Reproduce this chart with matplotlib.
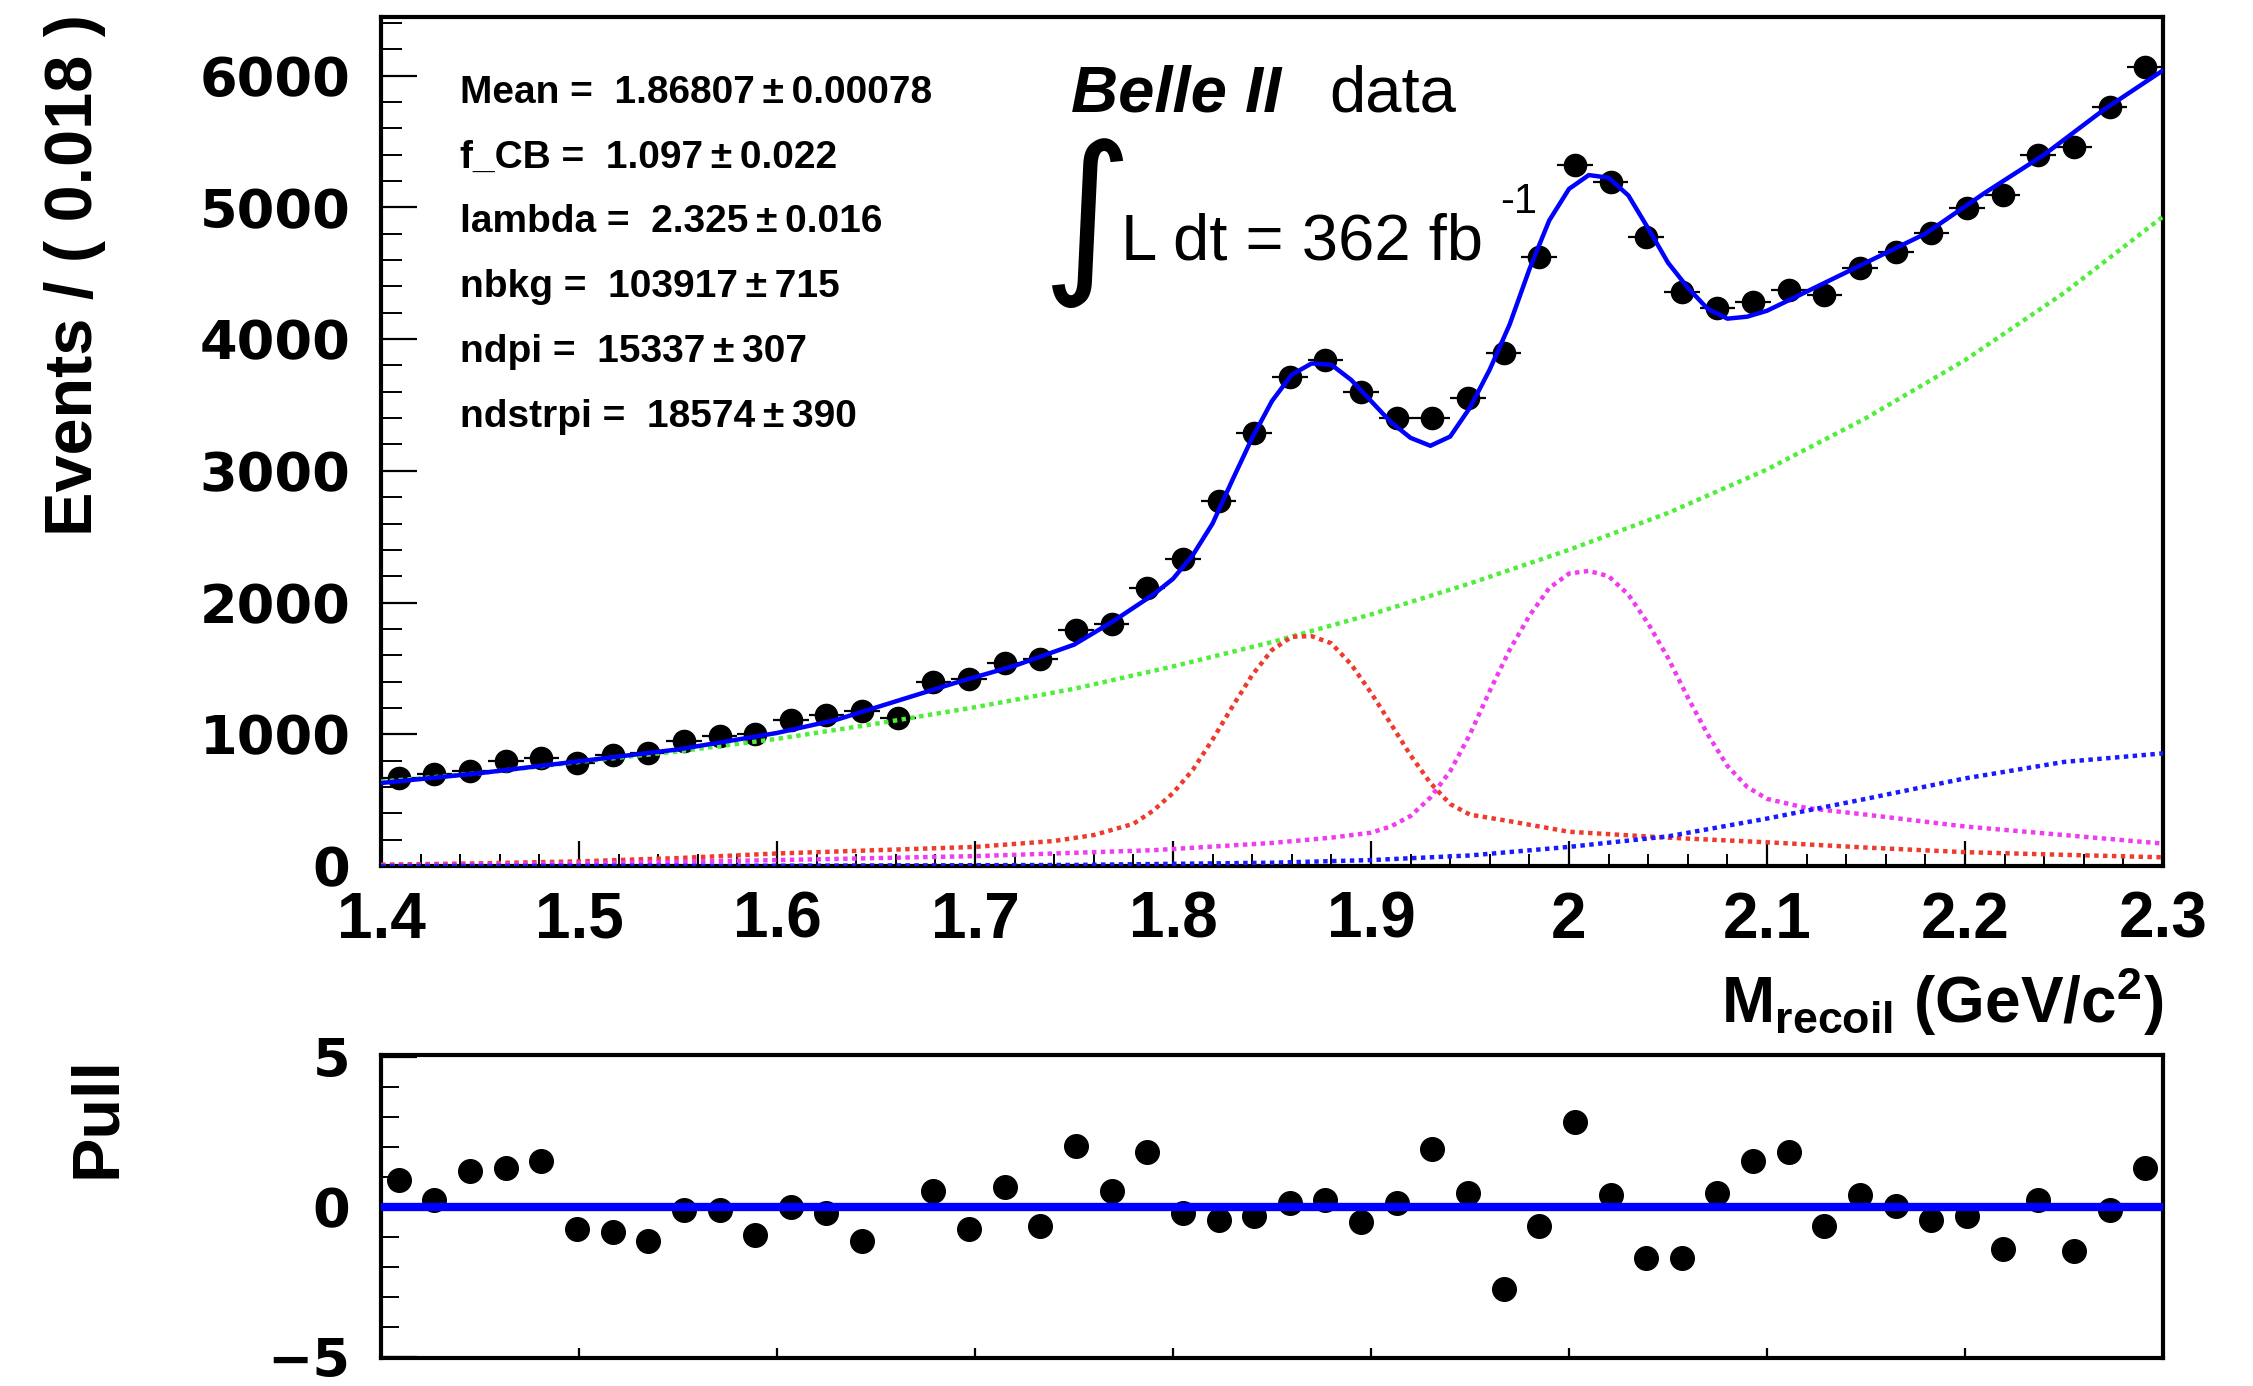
#!/usr/bin/env python3
"""Belle II recoil-mass fit with pull panel, redrawn in matplotlib."""

import matplotlib

matplotlib.use("Agg")
import matplotlib.pyplot as plt
import numpy as np
from matplotlib.ticker import MultipleLocator

plt.rcParams["font.family"] = ["Liberation Sans", "DejaVu Sans"]
plt.rcParams["mathtext.fontset"] = "custom"
plt.rcParams["mathtext.rm"] = "Liberation Sans"
plt.rcParams["mathtext.bf"] = "Liberation Sans:bold"
plt.rcParams["mathtext.it"] = "Liberation Sans:italic"

# ---- data ----------------------------------------------------------------
bin_lo, bin_hi, n_bins = 1.4, 2.3, 50
counts = [
    671, 696, 722, 797, 823, 785, 841, 856, 949, 990,
    1005, 1112, 1150, 1180, 1122, 1400, 1420, 1542, 1570, 1795,
    1835, 2114, 2329, 2772, 3290, 3713, 3842, 3600, 3401, 3401,
    3553, 3895, 4625, 5323, 5194, 4777, 4360, 4237, 4283, 4373,
    4335, 4540, 4662, 4805, 4995, 5094, 5398, 5459, 5763, 6067,
]
pulls = [
    0.88, 0.22, 1.19, 1.29, 1.51, -0.75, -0.85, -1.16, -0.11, -0.11,
    -0.96, 0.0, -0.22, -1.16, np.nan, 0.53, -0.75, 0.64, -0.64, 2.02,
    0.53, 1.81, -0.20, -0.44, -0.33, 0.13, 0.22, -0.53, 0.13, 1.92,
    0.46, -2.75, -0.64, 2.82, 0.38, -1.70, -1.70, 0.46, 1.51, 1.81,
    -0.64, 0.38, 0.02, -0.44, -0.33, -1.40, 0.22, -1.48, -0.11, 1.30,
]

fit_x = [1.40, 1.45, 1.50, 1.55, 1.60, 1.63, 1.66, 1.69, 1.72, 1.75, 1.77, 1.79,
         1.80, 1.81, 1.82, 1.83, 1.84, 1.85, 1.86, 1.87, 1.88, 1.89, 1.90, 1.91,
         1.92, 1.93, 1.94, 1.95, 1.96, 1.97, 1.98, 1.99, 2.00, 2.01, 2.02, 2.03,
         2.04, 2.05, 2.06, 2.07, 2.08, 2.09, 2.10, 2.12, 2.15, 2.18, 2.21, 2.24,
         2.27, 2.30]
fit_y = [630, 705, 795, 885, 1010, 1110, 1250, 1390, 1520, 1680, 1860, 2060,
         2180, 2360, 2600, 2930, 3250, 3530, 3730, 3815, 3805, 3690, 3530, 3370,
         3250, 3190, 3260, 3480, 3770, 4110, 4530, 4900, 5140, 5245, 5225, 5090,
         4840, 4580, 4390, 4230, 4155, 4170, 4215, 4360, 4580, 4800, 5110, 5400,
         5740, 6040]

bkg_x = [1.40, 1.45, 1.50, 1.55, 1.60, 1.65, 1.70, 1.75, 1.80, 1.85, 1.90, 1.95,
         2.00, 2.05, 2.10, 2.15, 2.20, 2.25, 2.30]
bkg_y = [640, 705, 790, 870, 965, 1080, 1205, 1345, 1515, 1700, 1910, 2145,
         2400, 2680, 3010, 3400, 3840, 4350, 4930]

dpi_x = [1.40, 1.45, 1.50, 1.55, 1.60, 1.65, 1.70, 1.74, 1.76, 1.78, 1.79, 1.80,
         1.81, 1.82, 1.83, 1.84, 1.85, 1.86, 1.87, 1.88, 1.89, 1.90, 1.91, 1.92,
         1.93, 1.94, 1.95, 1.97, 2.00, 2.05, 2.10, 2.15, 2.20, 2.25, 2.30]
dpi_y = [10, 20, 35, 60, 95, 120, 145, 190, 235, 320, 420, 554,
         730, 960, 1210, 1450, 1640, 1740, 1745, 1690, 1530, 1316, 1080, 840,
         630, 470, 390, 340, 260, 215, 180, 140, 105, 85, 66]

dstrpi_x = [1.40, 1.50, 1.60, 1.70, 1.79, 1.85, 1.88, 1.90, 1.91, 1.92, 1.93,
            1.94, 1.95, 1.96, 1.97, 1.98, 1.99, 2.00, 2.01, 2.02, 2.03, 2.04,
            2.05, 2.06, 2.07, 2.08, 2.09, 2.10, 2.12, 2.15, 2.20, 2.25, 2.30]
dstrpi_y = [5, 20, 45, 75, 120, 175, 215, 253, 300, 380, 520,
            720, 1000, 1330, 1640, 1900, 2110, 2220, 2240, 2200, 2060, 1840,
            1580, 1280, 1000, 760, 600, 510, 440, 390, 300, 235, 170]

bkg2_x = [1.40, 1.60, 1.75, 1.85, 1.90, 1.95, 2.00, 2.05, 2.10, 2.15, 2.20, 2.25, 2.30]
bkg2_y = [0, 2, 8, 25, 45, 80, 145, 225, 360, 510, 665, 790, 855]

params = [
    ("Mean", "1.86807", "0.00078"),
    ("f_CB", "1.097", "0.022"),
    ("lambda", "2.325", "0.016"),
    ("nbkg", "103917", "715"),
    ("ndpi", "15337", "307"),
    ("ndstrpi", "18574", "390"),
]

xtick_vals = [1.4, 1.5, 1.6, 1.7, 1.8, 1.9, 2.0, 2.1, 2.2, 2.3]
xtick_labels = ["1.4", "1.5", "1.6", "1.7", "1.8", "1.9", "2", "2.1", "2.2", "2.3"]
ytick_vals = [0, 1000, 2000, 3000, 4000, 5000, 6000]
pull_ticks = [-5, 0, 5]
pull_labels = ["\u22125", "0", "5"]

# ---- figure ----------------------------------------------------------------
W, H = 2253, 1386
fig = plt.figure(figsize=(W / 100, H / 100), dpi=100)


def fx(px):
    return px / W


def fy(py):
    return 1 - py / H


ax = fig.add_axes([fx(381), fy(866), fx(2163) - fx(381), fy(17) - fy(866)])
axp = fig.add_axes([fx(381), fy(1358), fx(2163) - fx(381), fy(1055) - fy(1358)])

edges = np.linspace(bin_lo, bin_hi, n_bins + 1)
centers = 0.5 * (edges[:-1] + edges[1:])
half_w = 0.5 * (edges[1] - edges[0])

ax.errorbar(centers, counts, xerr=half_w, fmt="o", color="black", ms=16,
            elinewidth=1.6, capsize=0, zorder=2)
ax.plot(fit_x, fit_y, color="#0000ff", lw=3.2, zorder=4)
dots = (0, (1, 1))
ax.plot(bkg_x, bkg_y, color="#4fee3a", lw=3.2, ls=dots, zorder=3)
ax.plot(dpi_x, dpi_y, color="#ee3b2e", lw=3.2, ls=dots, zorder=3)
ax.plot(dstrpi_x, dstrpi_y, color="#f03cf0", lw=3.2, ls=dots, zorder=3)
ax.plot(bkg2_x, bkg2_y, color="#1a1aff", lw=3.2, ls=dots, zorder=3)

ax.set_xlim(bin_lo, bin_hi)
ax.set_ylim(0, 6445)
ax.set_xticks(xtick_vals, xtick_labels, fontsize=46, fontweight="bold")
ax.set_yticks(ytick_vals, [str(v) for v in ytick_vals], fontsize=39,
              fontweight="bold", fontfamily="DejaVu Sans")
ax.xaxis.set_minor_locator(MultipleLocator(0.02))
ax.yaxis.set_minor_locator(MultipleLocator(200))
ax.tick_params(axis="x", which="major", direction="in", length=18, width=1.6, pad=18)
ax.tick_params(axis="x", which="minor", direction="in", length=8.5, width=1.4)
ax.tick_params(axis="y", which="major", direction="in", length=26, width=1.6, pad=22)
ax.tick_params(axis="y", which="minor", direction="in", length=15, width=1.4)
for sp in ax.spines.values():
    sp.set_linewidth(3)

# pull panel
axp.plot(centers, pulls, "o", color="black", ms=17, zorder=2)
axp.axhline(0, color="#0000ff", lw=6, zorder=3)
axp.set_xlim(bin_lo, bin_hi)
axp.set_ylim(-5.05, 5.05)
axp.xaxis.set_major_locator(MultipleLocator(0.1))
axp.tick_params(axis="x", which="major", direction="in", length=7, width=1.6,
                labelbottom=False)
axp.set_yticks(pull_ticks, pull_labels, fontsize=39, fontweight="bold",
               fontfamily="DejaVu Sans")
axp.yaxis.set_minor_locator(MultipleLocator(1))
axp.tick_params(axis="y", which="major", direction="in", length=26, width=1.6, pad=22)
axp.tick_params(axis="y", which="minor", direction="in", length=13, width=1.4)
for sp in axp.spines.values():
    sp.set_linewidth(3)

# axis titles
fig.text(fx(75), fy(14), "Events / ( 0.018 )", rotation=90, ha="center", va="top",
         fontsize=48, fontweight="bold")
fig.text(fx(98), fy(1056), "Pull", rotation=90, ha="center", va="top",
         fontsize=48, fontweight="bold")
fig.text(fx(2163), fy(1023), r"$\mathbf{M_{recoil}\ (GeV/c^{2})}$", ha="right",
         va="baseline", fontsize=46)

# fit parameters
for i, (name, val, err) in enumerate(params):
    fig.text(fx(460), fy(89 + 64.7 * i), f"{name} =  {val}\u2009\u00b1\u2009{err}",
             ha="left", va="center_baseline", fontsize=28, fontweight="bold")

# experiment label
fig.text(fx(1071), fy(112), "Belle II", ha="left", va="baseline", fontsize=47,
         fontweight="bold", fontstyle="italic")
fig.text(fx(1329), fy(112), "data", ha="left", va="baseline", fontsize=47)
fig.text(fx(1088), fy(223), "\u222b", ha="center", va="center", fontsize=126,
         fontfamily="DejaVu Sans")
fig.text(fx(1121), fy(259), "L dt = 362 fb", ha="left", va="baseline", fontsize=47)
fig.text(fx(1500), fy(182), "-1", ha="left", va="top", fontsize=30)

fig.savefig("out.png", dpi=100)
plt.close(fig)
